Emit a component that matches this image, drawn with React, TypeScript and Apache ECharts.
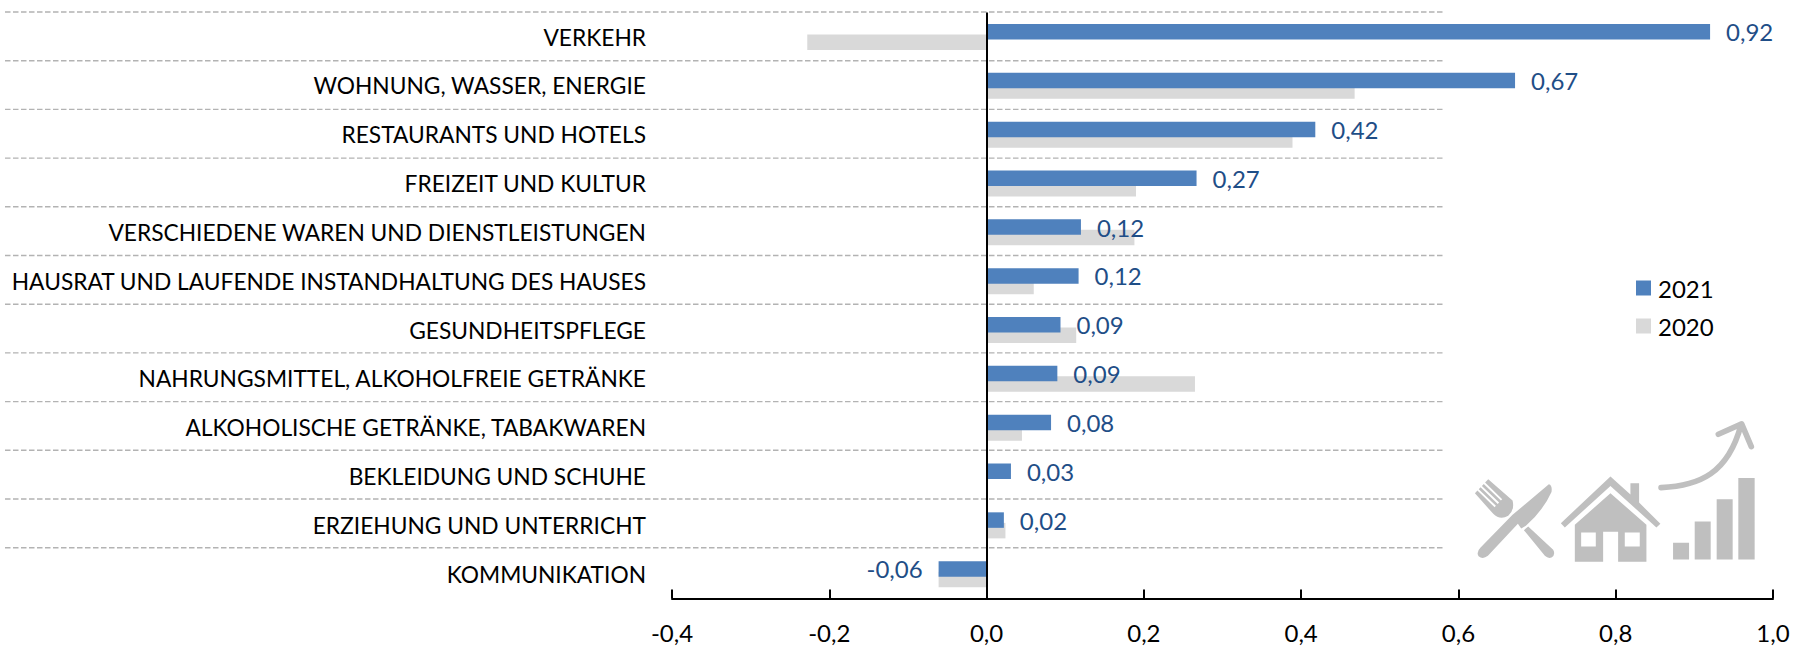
import React, { useEffect, useRef } from "react";
import * as echarts from "echarts";

const categories = [
  "VERKEHR",
  "WOHNUNG, WASSER, ENERGIE",
  "RESTAURANTS UND HOTELS",
  "FREIZEIT UND KULTUR",
  "VERSCHIEDENE WAREN UND DIENSTLEISTUNGEN",
  "HAUSRAT UND LAUFENDE INSTANDHALTUNG DES HAUSES",
  "GESUNDHEITSPFLEGE",
  "NAHRUNGSMITTEL, ALKOHOLFREIE GETRÄNKE",
  "ALKOHOLISCHE GETRÄNKE, TABAKWAREN",
  "BEKLEIDUNG UND SCHUHE",
  "ERZIEHUNG UND UNTERRICHT",
  "KOMMUNIKATION",
];
const values2021 = [0.92, 0.672, 0.418, 0.267, 0.12, 0.117, 0.094, 0.09, 0.082, 0.031, 0.022, -0.061];
const values2020 = [-0.228, 0.468, 0.389, 0.19, 0.188, 0.06, 0.114, 0.265, 0.045, 0, 0.024, -0.061];

const FONT = "Lato";
const GRID = { left: 672, right: 27, top: 12.6, height: 586 };

const comma = (v: number, d: number) => v.toFixed(d).replace(".", ",");

const knifeFork =
  "M447 313 Q458 316 455 336 Q430 392 378 438 L364 446 L354 432 L264 528 Q248 540 236 529 Q228 517 242 503 L338 405 Z " +
  "M372 451 L385 440 L460 510 Q468 525 455 533 Q445 537 435 528 Z " +
  "M265 298 L338 362 Q345 390 325 408 Q300 422 280 402 L225 340 " +
  "L232.5 332 L284 382 L288 378 L236.5 328 L242 322 L293.5 372 L297.5 368 L246 318 " +
  "L251.5 312 L303 362 L307 358 L255.5 308 Z";
const house =
  "M632 290 L692 344 L692 310 L718 310 L718 368 L782 432 L770 443 L632 318 L495 443 L483 430 Z " +
  "M632 340 L740 435 L740 546 L655 546 L655 456 L610 456 L610 546 L525 546 L525 435 Z " +
  "M544 458 L544 500 L588 500 L588 458 Z M675 458 L675 500 L720 500 L720 458 Z";
const steps =
  "M820 489 L868 489 L868 539 L820 539 Z M885 425 L933 425 L933 539 L885 539 Z " +
  "M951 358 L999 358 L999 539 L951 539 Z M1016 294 L1065 294 L1065 539 L1016 539 Z";
const arrow = "M784 323 C900 318 985 280 1024 135 M956 163 L1026 132 L1055 200";

echarts.graphic.registerShape("iconKnifeFork", echarts.graphic.extendPath(knifeFork, {}));
echarts.graphic.registerShape("iconHouse", echarts.graphic.extendPath(house, {}));
echarts.graphic.registerShape("iconSteps", echarts.graphic.extendPath(steps, {}));
echarts.graphic.registerShape("iconArrow", echarts.graphic.extendPath(arrow, {}));

export default function App() {
  const ref = useRef<HTMLDivElement>(null);
  useEffect(() => {
    const chart = echarts.init(ref.current!, null, { renderer: "svg" });
    const labelStyle = {
      show: true,
      color: "#1F4E87",
      fontFamily: FONT,
      fontSize: 24,
      distance: 16,
      formatter: (p: any) => comma(p.value, 2),
    };
    const separators = categories.map((_, i) => ({
      type: "line",
      z: 0,
      shape: { x1: 5, y1: 12 + 48.7 * i, x2: 1445, y2: 12 + 48.7 * i },
      style: { stroke: "#B3B3B3", lineWidth: 1.4, lineDash: [5.5, 2.5] },
    }));
    const iconBase = { x: 1400, y: 380, scaleX: 1 / 3, scaleY: 1 / 3, z: 0 };
    const iconFill = { fill: "#BFBFBF" };
    chart.setOption({
      animation: false,
      backgroundColor: "#FFFFFF",
      grid: { ...GRID, containLabel: false },
      legend: {
        orient: "vertical",
        left: 1631,
        top: 271,
        itemWidth: 15,
        itemHeight: 15,
        itemGap: 14,
        icon: "rect",
        data: ["2021", "2020"],
        textStyle: { fontFamily: FONT, fontSize: 24, color: "#000000", padding: [0, 0, 0, 2] },
      },
      xAxis: {
        type: "value",
        min: -0.4,
        max: 1,
        interval: 0.2,
        position: "bottom",
        splitLine: { show: false },
        axisLine: { show: true, onZero: false, lineStyle: { color: "#000000", width: 2 } },
        axisTick: { show: true, inside: true, length: 9, lineStyle: { color: "#000000", width: 2 } },
        axisLabel: {
          color: "#000000",
          fontFamily: FONT,
          fontSize: 24,
          margin: 22,
          formatter: (v: number) => comma(v, 1),
        },
      },
      yAxis: {
        type: "category",
        inverse: true,
        data: categories,
        axisLine: { show: false, onZero: false },
        axisTick: { show: false },
        splitLine: { show: false },
        axisLabel: {
          color: "#000000",
          fontFamily: FONT,
          fontSize: 22.75,
          margin: 26,
          interval: 0,
          padding: [0, 0, 3, 0],
        },
      },
      series: [
        {
          name: "2021",
          type: "bar",
          z: 3,
          data: values2021.map((value) => ({
            value,
            label: { position: value < 0 ? "left" : "right" },
          })),
          barWidth: 15.5,
          barGap: "-32%",
          itemStyle: { color: "#4F81BD" },
          label: { ...labelStyle, position: "right" },
          markLine: {
            silent: true,
            symbol: "none",
            label: { show: false },
            lineStyle: { color: "#000000", width: 2, type: "solid" },
            data: [{ xAxis: 0 }],
          },
        },
        {
          name: "2020",
          type: "bar",
          z: 2,
          data: values2020,
          barWidth: 15.5,
          barGap: "-32%",
          itemStyle: { color: "#D9D9D9" },
        },
      ],
      graphic: {
        elements: [
          ...separators,
          { type: "iconKnifeFork", ...iconBase, style: iconFill },
          { type: "iconHouse", ...iconBase, style: iconFill },
          { type: "iconSteps", ...iconBase, style: iconFill },
          {
            type: "iconArrow",
            ...iconBase,
            style: { fill: "none", stroke: "#BFBFBF", lineWidth: 17, lineCap: "round", lineJoin: "round" },
          },
        ],
      },
    });
    return () => chart.dispose();
  }, []);
  return (
    <div
      ref={ref}
      style={{ position: "fixed", left: 0, top: 0, width: 1800, height: 646, background: "#fff" }}
    />
  );
}
